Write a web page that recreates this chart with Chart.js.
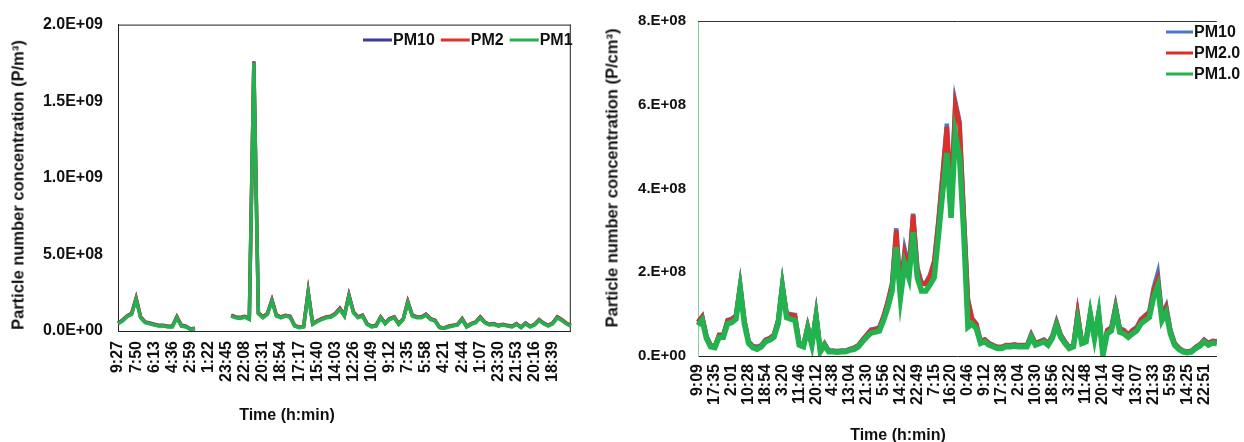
<!DOCTYPE html>
<html>
<head>
<meta charset="utf-8">
<script src="https://cdn.jsdelivr.net/npm/chart.js@4.4.1/dist/chart.umd.min.js"></script>
<style>
  body { margin: 0; width: 1244px; height: 442px; overflow: hidden; background: #fff; position: relative;
         font-family: "Liberation Sans", Arial, sans-serif; }
  .panel { position: absolute; top: 0; }
  .title { position: absolute; font-weight: bold; color: #111; white-space: nowrap; transform: translate(-50%, -50%); }
  .title.rot { transform: translate(-50%, -50%) rotate(-90deg); }
</style>
</head>
<body>
<div class="panel" style="left:0"><canvas id="left-chart" width="600" height="442"></canvas></div>
<div class="panel" style="left:600px"><canvas id="right-chart" width="644" height="442"></canvas></div>

<div class="title rot" style="left:18px; top:185px; font-size:16.5px;">Particle number concentration (P/m³)</div>
<div class="title" style="left:287px; top:415px; font-size:16px;">Time (h:min)</div>
<div class="title rot" style="left:612px; top:178px; font-size:16.5px;">Particle number concentration (P/cm³)</div>
<div class="title" style="left:898px; top:435px; font-size:16px;">Time (h:min)</div>

<script>
// ========================================
// DATA (concentrations in units of 1E+08)
// ========================================

// left panel: one tick label every 4 samples
const leftTicks = ['9:27','7:50','6:13','4:36','2:59','1:22','23:45','22:08','20:31','18:54','17:17','15:40','14:03',
    '12:26','10:49','9:12','7:35','5:58','4:21','2:44','1:07','23:30','21:53','20:16','18:39'];

const leftPM1 = [0.47,0.65,0.93,1.08,2.05,0.86,0.54,0.47,0.39,0.32,0.32,0.26,0.26,0.86,0.32,0.26,0.10,0.15,
    null,null,null,null,null,null,null,
    0.97,0.86,0.82,0.90,0.75,17.5,1.12,0.86,1.08,1.94,0.97,0.86,0.97,0.90,0.32,0.22,0.26,2.48,0.43,0.60,0.75,
    0.86,0.90,1.08,1.40,0.97,2.26,1.18,0.86,0.97,0.43,0.26,0.32,0.86,0.47,0.75,0.86,0.43,0.75,1.83,0.97,0.86,
    0.86,1.03,0.75,0.65,0.22,0.17,0.26,0.32,0.39,0.75,0.26,0.43,0.54,0.86,0.54,0.39,0.43,0.32,0.39,0.32,0.26,
    0.43,0.22,0.47,0.26,0.39,0.69,0.47,0.32,0.47,0.86,0.69,0.47,0.32];

const leftPM2 = [0.50,0.69,0.97,1.13,2.12,0.90,0.57,0.50,0.42,0.35,0.35,0.29,0.29,0.91,0.35,0.29,0.12,0.17,
    null,null,null,null,null,null,null,
    1.01,0.90,0.86,0.94,0.79,17.55,1.17,0.90,1.13,2.01,1.01,0.90,1.01,0.94,0.35,0.24,0.29,2.55,0.46,0.64,0.79,
    0.90,0.94,1.13,1.46,1.01,2.33,1.23,0.90,1.01,0.46,0.29,0.35,0.90,0.50,0.79,0.90,0.46,0.79,1.90,1.01,0.90,
    0.90,1.08,0.79,0.69,0.24,0.19,0.29,0.35,0.42,0.79,0.29,0.46,0.57,0.90,0.57,0.42,0.46,0.35,0.42,0.35,0.29,
    0.46,0.24,0.50,0.29,0.42,0.73,0.50,0.35,0.50,0.90,0.73,0.50,0.35];

const leftPM10 = [0.52,0.71,0.99,1.15,2.15,0.92,0.59,0.52,0.44,0.37,0.37,0.31,0.31,0.94,0.37,0.31,0.13,0.18,
    null,null,null,null,null,null,null,
    1.03,0.92,0.88,0.96,0.81,17.6,1.19,0.92,1.15,2.04,1.03,0.92,1.03,0.96,0.37,0.25,0.31,2.58,0.48,0.66,0.81,
    0.92,0.96,1.15,1.49,1.03,2.36,1.25,0.92,1.03,0.48,0.31,0.37,0.92,0.52,0.81,0.92,0.48,0.81,1.93,1.03,0.92,
    0.92,1.10,0.81,0.71,0.25,0.20,0.31,0.37,0.44,0.81,0.31,0.48,0.59,0.92,0.59,0.44,0.48,0.37,0.44,0.37,0.31,
    0.48,0.25,0.52,0.31,0.44,0.75,0.52,0.37,0.52,0.92,0.75,0.52,0.37];

// right panel: one tick label every 4 samples
const rightTicks = ['9:09','17:35','2:01','10:28','18:54','3:20','11:46','20:12','4:38','13:04','21:30','5:56',
    '14:22','22:49','7:15','16:20','0:46','9:12','17:38','2:04','10:30','18:56','3:22','11:48','20:14','4:40',
    '13:07','21:33','5:59','14:25','22:51'];

const rightPM1 = [0.73,0.86,0.42,0.22,0.20,0.45,0.45,0.77,0.80,0.88,1.60,0.77,0.30,0.20,0.16,0.22,0.34,0.38,
    0.45,0.77,1.63,0.92,0.88,0.85,0.26,0.22,0.65,0.26,0.92,0.10,0.26,0.10,0.10,0.09,0.10,0.10,0.14,0.16,0.22,
    0.34,0.45,0.55,0.57,0.60,0.85,1.16,1.55,2.60,1.40,2.20,1.87,2.96,1.87,1.55,1.55,1.70,1.87,2.88,3.90,4.85,
    3.30,5.30,4.77,2.96,0.69,0.77,0.65,0.30,0.34,0.26,0.22,0.18,0.18,0.22,0.22,0.24,0.22,0.22,0.22,0.45,0.26,
    0.30,0.34,0.26,0.42,0.73,0.45,0.30,0.18,0.22,0.85,0.30,0.34,1.00,0.42,1.00,0.02,0.53,0.60,1.08,0.57,0.53,
    0.45,0.53,0.60,0.77,0.85,0.92,1.40,1.67,0.85,1.04,0.53,0.26,0.16,0.10,0.08,0.10,0.18,0.24,0.34,0.26,0.31,
    0.30];

const rightPM2 = [0.80,0.93,0.47,0.25,0.23,0.50,0.50,0.84,0.87,0.95,1.68,0.84,0.34,0.23,0.19,0.25,0.38,0.42,
    0.50,0.84,1.70,1.00,0.98,0.96,0.30,0.25,0.71,0.29,1.00,0.12,0.29,0.12,0.12,0.11,0.12,0.12,0.16,0.19,0.25,
    0.38,0.50,0.61,0.63,0.67,0.94,1.28,1.70,3.00,1.55,2.45,2.08,3.37,2.08,1.72,1.72,1.90,2.24,3.20,4.30,5.47,
    3.70,6.00,5.55,3.40,1.32,0.88,0.75,0.35,0.39,0.30,0.25,0.21,0.21,0.25,0.25,0.27,0.25,0.25,0.25,0.50,0.30,
    0.34,0.38,0.30,0.47,0.80,0.50,0.34,0.21,0.25,1.02,0.34,0.38,1.02,0.47,1.02,0.04,0.60,0.67,1.18,0.64,0.60,
    0.51,0.60,0.67,0.86,0.95,1.03,1.55,1.83,0.95,1.16,0.60,0.30,0.19,0.12,0.10,0.12,0.21,0.27,0.38,0.30,0.35,
    0.34];

const rightPM10 = [0.82,0.95,0.48,0.26,0.24,0.51,0.51,0.86,0.89,0.97,1.71,0.86,0.35,0.24,0.22,0.26,0.39,0.43,
    0.51,0.86,1.73,1.02,1.00,0.98,0.31,0.26,0.72,0.30,1.02,0.13,0.30,0.13,0.13,0.12,0.13,0.13,0.17,0.20,0.26,
    0.39,0.51,0.63,0.65,0.69,0.96,1.31,1.74,3.05,1.58,2.55,2.12,3.40,2.12,1.75,1.75,1.93,2.27,3.25,4.38,5.55,
    3.75,6.08,5.60,3.45,1.36,0.90,0.77,0.36,0.40,0.31,0.26,0.22,0.22,0.26,0.26,0.28,0.26,0.26,0.26,0.52,0.31,
    0.35,0.39,0.31,0.48,0.82,0.51,0.35,0.22,0.26,1.03,0.35,0.39,1.03,0.48,1.03,0.05,0.62,0.69,1.20,0.66,0.62,
    0.52,0.62,0.69,0.88,0.97,1.06,1.62,1.98,0.98,1.20,0.62,0.31,0.20,0.13,0.11,0.13,0.22,0.28,0.39,0.31,0.36,
    0.35];

const SAMPLES_PER_TICK = 4;

// ========================================
// HELPERS
// ========================================

// category labels: time string on every 4th sample, blank otherwise
function buildLabels(ticks, count) {
    const labels = [];
    for (let i = 0; i < count; i++) {
        labels.push(i % SAMPLES_PER_TICK === 0 && ticks[i / SAMPLES_PER_TICK] ? ticks[i / SAMPLES_PER_TICK] : '');
    }
    return labels;
}

// 2.0E+09 / 8.E+08 style labels (axis values are in 1E+08)
function sciLabel(value, digits) {
    const parts = (value * 1e8).toExponential(digits).split('e');
    const exp = parseInt(parts[1], 10);
    const mant = digits ? parts[0] : parts[0] + '.';
    return mant + 'E' + (exp < 0 ? '-' : '+') + String(Math.abs(exp)).padStart(2, '0');
}

// top / right border of the plot box
const framePlugin = {
    id: 'frame',
    beforeDatasetsDraw(chart, args, opts) {
        const { ctx, chartArea: a } = chart;
        ctx.save();
        ctx.lineWidth = 1;
        ctx.strokeStyle = opts.color;
        ctx.beginPath();
        ctx.moveTo(a.left, a.top + 0.5);
        ctx.lineTo(a.right, a.top + 0.5);
        if (opts.right) {
            ctx.moveTo(a.right - 0.5, a.top);
            ctx.lineTo(a.right - 0.5, a.bottom);
        }
        ctx.stroke();
        ctx.restore();
    }
};

// legend drawn inside the plot, PM10 first
const lineLegend = {
    id: 'lineLegend',
    afterDraw(chart, args, opts) {
        const ctx = chart.ctx;
        ctx.save();
        ctx.font = opts.font;
        ctx.textBaseline = 'middle';
        let x = opts.x, y = opts.y;
        chart.data.datasets.slice().reverse().forEach(ds => {
            ctx.strokeStyle = ds.borderColor;
            ctx.lineWidth = 3;
            ctx.beginPath();
            ctx.moveTo(x, y);
            ctx.lineTo(x + opts.sample, y);
            ctx.stroke();
            ctx.fillStyle = '#111';
            ctx.fillText(ds.label, x + opts.sample + 1, y + 1);
            if (opts.horizontal) x += opts.sample + 1 + ctx.measureText(ds.label).width + opts.gap;
            else y += opts.rowGap;
        });
        ctx.restore();
    }
};

const FONT = '"Liberation Sans", Arial, sans-serif';

function makeChart(id, cfg) {
    const ctx = document.getElementById(id).getContext('2d');
    return new Chart(ctx, {
        type: 'line',
        data: {
            labels: cfg.labels,
            datasets: cfg.series.map(s => ({
                label: s.label, data: s.data, borderColor: s.color, borderWidth: s.width,
                pointRadius: 0, tension: 0, fill: false, spanGaps: false
            }))
        },
        options: {
            responsive: false,
            animation: false,
            devicePixelRatio: 1,
            layout: { padding: cfg.padding },
            plugins: {
                legend: { display: false },
                tooltip: { enabled: false },
                frame: cfg.frame,
                lineLegend: cfg.legend
            },
            scales: {
                x: {
                    grid: { display: false, drawTicks: false },
                    border: { display: true, color: '#222', width: 1 },
                    ticks: {
                        autoSkip: false, minRotation: 90, maxRotation: 90, padding: cfg.xPad,
                        color: '#111', font: { family: FONT, size: 16, weight: 'bold' }
                    },
                    afterFit: s => { s.height = cfg.xHeight; }
                },
                y: {
                    min: 0, max: cfg.yMax,
                    grid: { display: false, drawTicks: false },
                    border: { display: true, color: cfg.yBorder, width: 1 },
                    ticks: {
                        stepSize: cfg.yStep, padding: cfg.yPad, color: '#111',
                        font: { family: FONT, size: cfg.yFont, weight: 'bold' },
                        callback: v => sciLabel(v, cfg.digits)
                    },
                    afterFit: s => { s.width = cfg.yWidth; }
                }
            }
        },
        plugins: [framePlugin, lineLegend]
    });
}

// ========================================
// LEFT PANEL (P/m3)
// ========================================
window.leftChart = makeChart('left-chart', {
    labels: buildLabels(leftTicks, leftPM1.length),
    series: [
        { label: 'PM1', data: leftPM1, color: '#25b04f', width: 3.5 },
        { label: 'PM2', data: leftPM2, color: '#df3129', width: 3.5 },
        { label: 'PM10', data: leftPM10, color: '#3d3996', width: 3.5 }
    ],
    padding: { top: 22, right: 19, left: 0, bottom: 0 },
    xHeight: 111, xPad: 10,
    yWidth: 118, yPad: 15, yFont: 16, yMax: 20, yStep: 5, digits: 1, yBorder: '#222',
    frame: { color: '#222', right: true },
    legend: { font: 'bold 16px ' + FONT, x: 363, y: 40, sample: 29, gap: 6, horizontal: true }
});

// ========================================
// RIGHT PANEL (P/cm3)
// ========================================
window.rightChart = makeChart('right-chart', {
    labels: buildLabels(rightTicks, rightPM1.length),
    series: [
        { label: 'PM1.0', data: rightPM1, color: '#22b24e', width: 5.5 },
        { label: 'PM2.0', data: rightPM2, color: '#db2f27', width: 4.5 },
        { label: 'PM10', data: rightPM10, color: '#4779c6', width: 4.5 }
    ],
    padding: { top: 15, right: 0, left: 0, bottom: 0 },
    xHeight: 86, xPad: 8,
    yWidth: 98, yPad: 12, yFont: 15, yMax: 8, yStep: 2, digits: 0, yBorder: '#7fd49a',
    frame: { color: '#333', right: false },
    legend: { font: 'bold 16px ' + FONT, x: 566, y: 32, sample: 27, rowGap: 21, horizontal: false }
});
</script>
</body>
</html>
